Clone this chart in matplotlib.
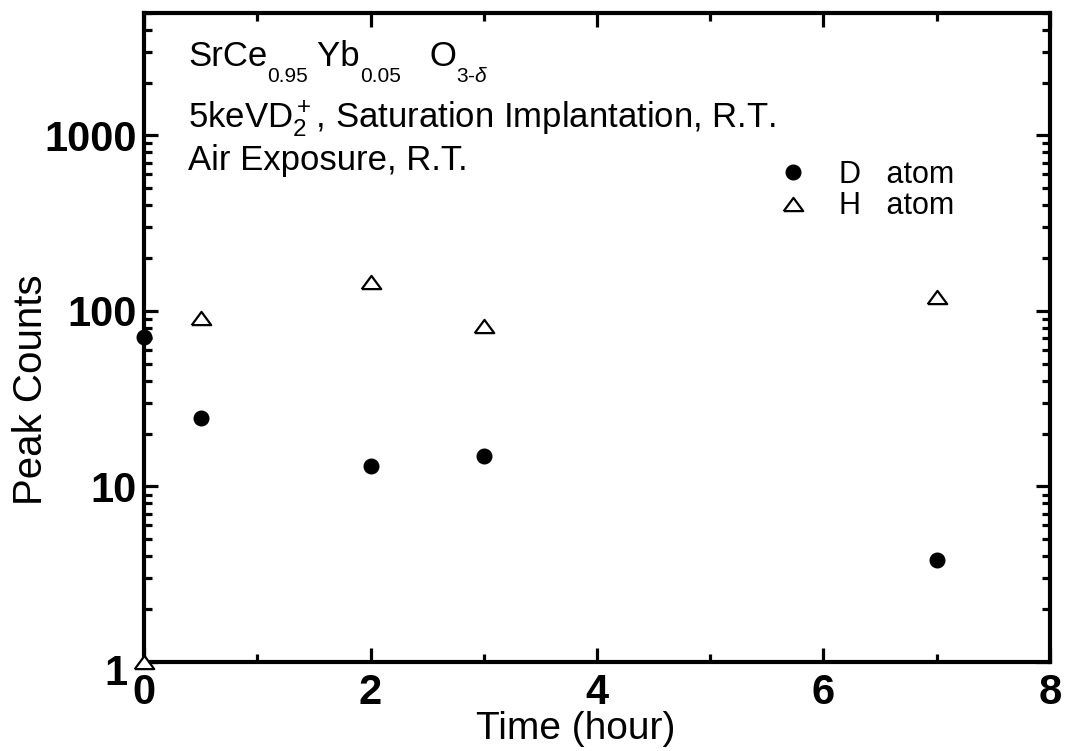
import matplotlib
matplotlib.use("Agg")
from matplotlib import pyplot as plt
from matplotlib.ticker import LogLocator, FixedLocator, NullFormatter
from matplotlib.transforms import ScaledTranslation

plt.rcParams["font.family"] = ["Liberation Sans", "DejaVu Sans"]
plt.rcParams["mathtext.fontset"] = "custom"
plt.rcParams["mathtext.rm"] = "Liberation Sans"
plt.rcParams["mathtext.it"] = "Liberation Sans:italic"

# data
d_time = [0, 0.5, 2, 3, 7]
d_counts = [71, 24.7, 13.1, 15, 3.8]
h_time = [0, 0.5, 2, 3, 7]
h_counts = [1, 91, 147, 82, 120]

# flat open triangle like the original
tri = [(-1, -0.68), (1, -0.68), (0, 0.68), (-1, -0.68)]

fig = plt.figure(figsize=(10.67, 7.51), dpi=100)
ax = fig.add_axes([0.135, 0.1185, 0.849, 0.8645])

ax.plot(d_time, d_counts, "o", color="black", markersize=10.5, clip_on=False, zorder=5,
        label="D   atom")
ax.plot(h_time, h_counts, marker=tri, linestyle="none", markerfacecolor="white",
        markeredgecolor="black", markeredgewidth=1.6, markersize=14, clip_on=False,
        zorder=5, label="H   atom")

ax.set_yscale("log")
ax.set_xlim(0, 8)
ax.set_ylim(1, 5000)
ax.set_xticks([0, 2, 4, 6, 8])
ax.xaxis.set_minor_locator(FixedLocator([1, 3, 5, 7]))
ax.set_yticks([1, 10, 100, 1000])
ax.set_yticklabels(["1", "10", "100", "1000"])
ax.yaxis.set_minor_locator(LogLocator(base=10, subs=range(2, 10)))
ax.yaxis.set_minor_formatter(NullFormatter())

ax.tick_params(which="both", direction="in", top=True, right=True, width=2.3)
ax.tick_params(which="major", length=10, labelsize=30)
ax.tick_params(axis="x", which="major", pad=8)
ax.tick_params(axis="y", which="major", pad=5)
ax.tick_params(which="minor", length=6)
for lab in ax.get_xticklabels() + ax.get_yticklabels():
    lab.set_fontweight("bold")
# the "1" sits a bit left and low, clear of the "0"
one = ax.get_yticklabels()[0]
one.set_transform(one.get_transform() + ScaledTranslation(-10 / 100, -7 / 100, fig.dpi_scale_trans))
for s in ax.spines.values():
    s.set_linewidth(3)

ax.set_xlabel("Time (hour)", fontsize=28)
ax.xaxis.set_label_coords(0.477, -0.076)
ax.set_ylabel("Peak Counts", fontsize=29)
ax.yaxis.set_label_coords(-0.104, 0.419)

# first line: formula with deep subscripts, built piece by piece
pieces = [("SrCe", 25, 0), ("0.95", 15, -11.5), (" Yb", 25, 0), ("0.05", 15, -11.5),
          ("   O", 25, 0), (r"3-$\mathit{\delta}$", 15, -11.5)]
prev = ax.text(0.0486, 0.918, "", transform=ax.transAxes, fontsize=25, va="baseline")
for txt, size, dy in pieces:
    prev = ax.annotate(txt, xy=(1, 0.918), xycoords=(prev, "axes fraction"),
                       xytext=(0, dy), textcoords="offset points",
                       fontsize=size, va="baseline", ha="left")

ax.text(0.0486, 0.823, r"5keVD$_2^+$, Saturation Implantation, R.T.",
        transform=ax.transAxes, fontsize=25, va="baseline")
ax.text(0.0486, 0.758, "Air Exposure, R.T.",
        transform=ax.transAxes, fontsize=25, va="baseline")

ax.legend(loc="upper left", bbox_to_anchor=(0.6995, 0.7735), frameon=False, fontsize=22,
          handlelength=1.0, handletextpad=1.0, labelspacing=0.05, markerscale=1.0,
          borderaxespad=0, borderpad=0)

fig.savefig("out.png", dpi=100)
